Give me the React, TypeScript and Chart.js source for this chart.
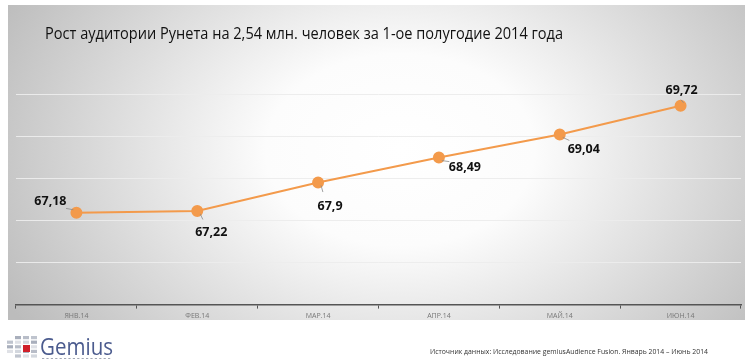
import React, { useEffect, useRef } from "react";
import { Chart, registerables } from "chart.js";

Chart.register(...registerables);

const title = "Рост аудитории Рунета на 2,54 млн. человек за 1-ое полугодие 2014 года";
const months = ["ЯНВ.14", "ФЕВ.14", "МАР.14", "АПР.14", "МАЙ.14", "ИЮН.14"];
const audience = [67.18, 67.22, 67.9, 68.49, 69.04, 69.72];
const valueLabels = ["67,18", "67,22", "67,9", "68,49", "69,04", "69,72"];
const sourceText = "Источник данных: Исследование gemiusAudience Fusion. Январь 2014 – Июнь 2014";
const yMin = 65;
const yMax = 70;

const ORANGE = "#F39A4B";

const labelOffsets = [
  [-26, -11],
  [14, 21],
  [12, 24],
  [26, 10],
  [24, 15],
  [1, -15],
];

const decorPlugin = {
  id: "decor",
  beforeDraw(chart: any) {
    const ctx = chart.ctx;
    ctx.save();
    ctx.fillStyle = "#ffffff";
    ctx.fillRect(0, 0, chart.width, chart.height);
    // panel with radial gradient
    const px = 8, py = 5, pw = 737, ph = 315;
    const cx = 400, cy = 150, sx = 1.4;
    ctx.save();
    ctx.beginPath();
    ctx.rect(px, py, pw, ph);
    ctx.clip();
    ctx.translate(cx, cy);
    ctx.scale(sx, 1);
    const g = ctx.createRadialGradient(0, 0, 0, 0, 0, 320);
    g.addColorStop(0, "#ffffff");
    g.addColorStop(0.3, "#fcfcfc");
    g.addColorStop(1, "#bcbcbc");
    ctx.fillStyle = g;
    ctx.fillRect((px - cx) / sx, py - cy, pw / sx, ph);
    ctx.restore();

    // title
    ctx.fillStyle = "#111111";
    ctx.font = "17px 'Open Sans'";
    ctx.textBaseline = "alphabetic";
    ctx.textAlign = "left";
    ctx.fillText(title, 45, 39, 518);

    // footer source
    ctx.fillStyle = "#333333";
    ctx.font = "7.5px 'Open Sans'";
    ctx.fillText(sourceText, 430, 354, 278);

    // logo squares
    const shades = ["#d3d7de", "#bfc4ce", "#a9afbc", "#dfe1e6", "#b8bdc8"];
    for (let c = 0; c < 4; c++) {
      for (let r = 0; r < 5; r++) {
        if (c === 0 && (r === 0 || r === 4)) continue;
        ctx.fillStyle = shades[(c * 2 + r) % shades.length];
        ctx.fillRect(7 + c * 8, 336 + r * 4.6, 6, 3.2);
      }
    }
    ctx.fillStyle = "#d0202a";
    ctx.fillRect(23, 345, 7, 7);
    ctx.fillStyle = "#4b5b8e";
    ctx.font = "24px 'Open Sans'";
    ctx.fillText("Gemius", 40, 355, 73);
    ctx.fillStyle = "#a4a9b6";
    for (let i = 0; i < 16; i++) {
      ctx.fillRect(42 + i * 4.4, 358, 2.2, 1);
    }
    ctx.restore();
  },
  afterDatasetsDraw(chart: any) {
    const ctx = chart.ctx;
    const meta = chart.getDatasetMeta(0);
    ctx.save();
    ctx.font = "bold 12.5px 'Open Sans'";
    ctx.textAlign = "center";
    ctx.textBaseline = "middle";
    meta.data.forEach((pt: any, i: number) => {
      const [dx, dy] = labelOffsets[i];
      const lx = pt.x + dx;
      const ly = pt.y + dy;
      ctx.strokeStyle = "#8a8a8a";
      ctx.lineWidth = 0.8;
      ctx.beginPath();
      const ax = pt.x + dx * 0.4;
      const ay = pt.y + dy * 0.4;
      ctx.moveTo(pt.x + Math.sign(dx) * 3, pt.y + Math.sign(dy) * 3);
      ctx.lineTo(ax, ay);
      ctx.stroke();
      ctx.fillStyle = "#111111";
      ctx.fillText(valueLabels[i], lx, ly);
    });
    ctx.restore();
  },
};

export default function App() {
  const ref = useRef<HTMLCanvasElement>(null);
  useEffect(() => {
    document.body.style.margin = "0";
    const chart = new Chart(ref.current as HTMLCanvasElement, {
      type: "line",
      data: {
        labels: months,
        datasets: [
          {
            data: audience,
            borderColor: ORANGE,
            backgroundColor: ORANGE,
            borderWidth: 2,
            pointRadius: 5,
            pointBackgroundColor: ORANGE,
            pointBorderColor: ORANGE,
            tension: 0,
          },
        ],
      },
      options: {
        animation: false,
        responsive: false,
        devicePixelRatio: 1,
        layout: { padding: { left: 16, right: 9, top: 94, bottom: 39 } },
        plugins: { legend: { display: false }, tooltip: { enabled: false } },
        scales: {
          x: {
            offset: true,
            grid: {
              display: true,
              offset: true,
              drawOnChartArea: false,
              drawTicks: true,
              tickLength: 4,
              color: "#555555",
            },
            border: { display: true, color: "#555555", width: 1.5 },
            ticks: {
              color: "#777777",
              font: { size: 7, family: "'Open Sans'" },
              padding: 3,
              maxRotation: 0,
            },
          },
          y: {
            min: yMin,
            max: yMax,
            ticks: { display: false, stepSize: 1 },
            border: { display: false },
            grid: { color: "rgba(236,236,236,0.95)", lineWidth: 1, drawTicks: false },
          },
        },
      },
      plugins: [decorPlugin],
    });
    return () => chart.destroy();
  }, []);
  return <canvas ref={ref} width={750} height={362} style={{ display: "block" }} />;
}
